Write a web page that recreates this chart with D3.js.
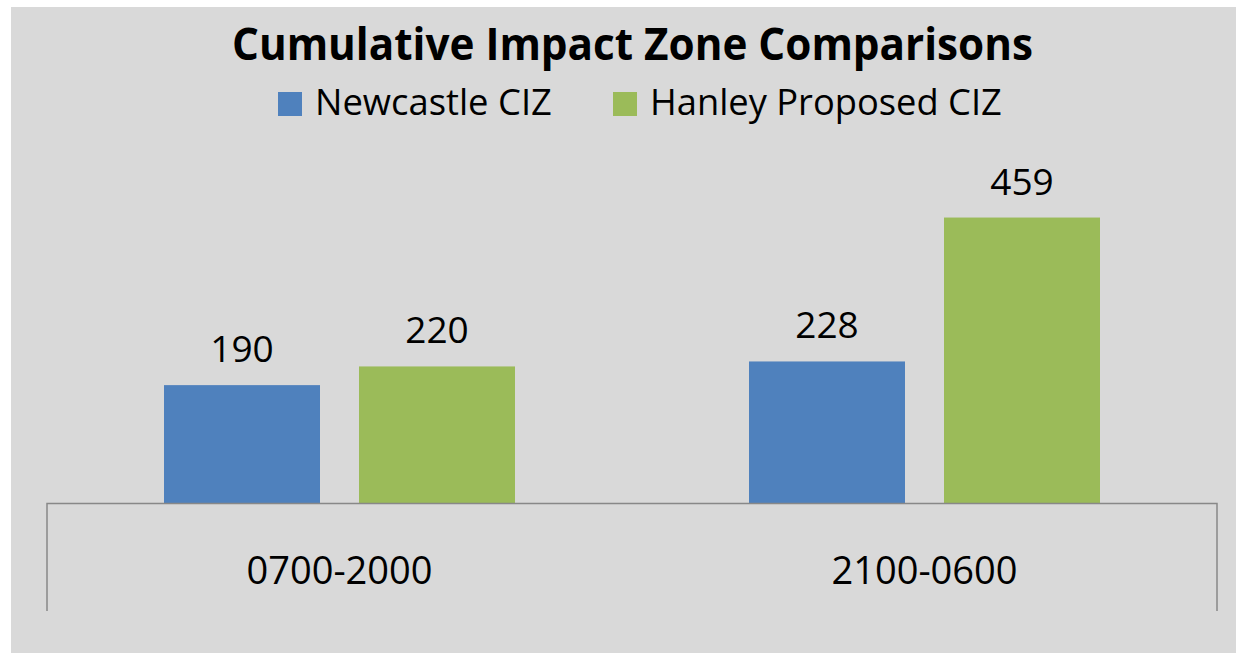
<!DOCTYPE html>
<html>
<head>
<meta charset="utf-8">
<style>
  body { margin: 0; background: #fff; }
  svg { display: block; }
</style>
</head>
<body>
<svg width="1236" height="653" font-family="'Open Sans', sans-serif"></svg>
<script src="https://d3js.org/d3.v7.min.js"></script>
<script>

// chart data
var categories = ["0700-2000", "2100-0600"];
var seriesNames = ["Newcastle CIZ", "Hanley Proposed CIZ"];
var newcastle = [190, 228];
var hanley = [220, 459];
var colors = ["#4F81BD", "#9BBB59"];

var series = [newcastle, hanley];

var svg = d3.select("svg");

// panel background
svg.append("rect")
    .attr("x", 11).attr("y", 7)
    .attr("width", 1236 - 11).attr("height", 653 - 7)
    .attr("fill", "#d9d9d9");

var baseY = 503.5;

var x0 = d3.scaleBand()
    .domain(categories)
    .range([47, 1217])
    .paddingInner(0).paddingOuter(0);

var x1 = d3.scaleBand()
    .domain(seriesNames)
    .range([0, x0.bandwidth()])
    .paddingInner(0.2).paddingOuter(0.6);

var y = d3.scaleLinear()
    .domain([0, 500])
    .range([baseY, baseY - 311.5]);

// fit text to a target width
function fit(sel, target) {
  var w = sel.node().getComputedTextLength();
  var fs = parseFloat(sel.attr("font-size"));
  sel.attr("font-size", fs * target / w);
}

// title (taller font squeezed to the reference width)
svg.append("text")
    .attr("x", 632.5).attr("y", 60)
    .attr("text-anchor", "middle")
    .attr("font-weight", "bold")
    .attr("font-size", 44)
    .attr("textLength", 801)
    .attr("lengthAdjust", "spacingAndGlyphs")
    .attr("fill", "#000")
    .text("Cumulative Impact Zone Comparisons");

// legend
var legendItems = [
  {name: seriesNames[0], color: colors[0], sx: 278, tx: 315, w: 237},
  {name: seriesNames[1], color: colors[1], sx: 613, tx: 650, w: 352}
];
legendItems.forEach(function(d) {
  svg.append("rect")
      .attr("x", d.sx).attr("y", 92)
      .attr("width", 24).attr("height", 24)
      .attr("fill", d.color);
  var t = svg.append("text")
      .attr("x", d.tx).attr("y", 115)
      .attr("font-size", 36)
      .attr("fill", "#000")
      .text(d.name);
  fit(t, d.w);
});

// bars
var groups = svg.selectAll(".cat")
    .data(categories)
    .enter().append("g")
      .attr("class", "cat")
      .attr("transform", function(d) { return "translate(" + x0(d) + ",0)"; });

groups.selectAll("rect")
    .data(function(d, i) {
      return seriesNames.map(function(s, j) { return {s: s, v: series[j][i], c: colors[j]}; });
    })
    .enter().append("rect")
      .attr("x", function(d) { return x1(d.s); })
      .attr("y", function(d) { return y(d.v); })
      .attr("width", x1.bandwidth())
      .attr("height", function(d) { return baseY - y(d.v); })
      .attr("fill", function(d) { return d.c; });

groups.selectAll(".lbl")
    .data(function(d, i) {
      return seriesNames.map(function(s, j) { return {s: s, v: series[j][i]}; });
    })
    .enter().append("text")
      .attr("class", "lbl")
      .attr("x", function(d) { return x1(d.s) + x1.bandwidth() / 2; })
      .attr("y", function(d) { return y(d.v) - 23; })
      .attr("text-anchor", "middle")
      .attr("font-size", 37)
      .attr("fill", "#000")
      .text(function(d) { return d.v; });

// category axis
var axis = svg.append("g")
    .attr("transform", "translate(0," + baseY + ")")
    .call(d3.axisBottom(x0).tickSize(0).tickPadding(0));
axis.select(".domain").remove();
axis.selectAll("text")
    .attr("y", 80)
    .attr("dy", 0)
    .attr("font-size", 38)
    .attr("font-family", "'Open Sans', sans-serif")
    .attr("fill", "#000");

svg.append("path")
    .attr("d", "M47," + 611 + "V" + baseY + "H1217V" + 611)
    .attr("fill", "none")
    .attr("stroke", "#888")
    .attr("stroke-width", 1.5);

</script>
</body>
</html>
